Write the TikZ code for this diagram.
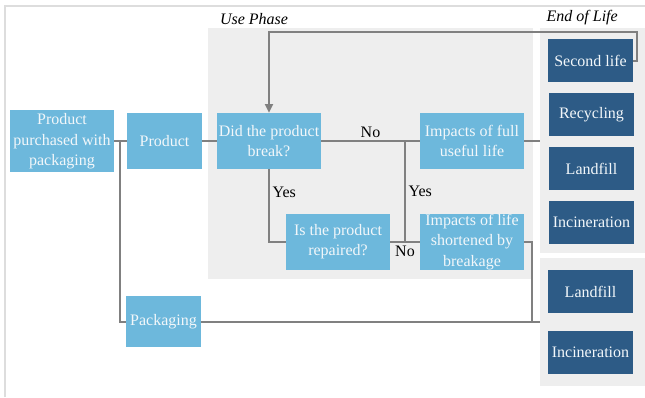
\documentclass[tikz,border=0pt]{standalone}
\usepackage{fontspec}
\setmainfont{Liberation Serif}
\usepackage{tikz}
\usetikzlibrary{arrows.meta,calc,positioning}
\definecolor{lcalight}{HTML}{6DB8DC}
\definecolor{lcadark}{HTML}{2D5B86}
\definecolor{lcapanel}{HTML}{EEEEEE}
\definecolor{lcaline}{HTML}{808080}
\definecolor{lcaframe}{HTML}{DDDDDD}
\definecolor{lcatext}{HTML}{F2F7FA}
\begin{document}
\begin{tikzpicture}[x=.75pt,y=-.75pt,>={Triangle[length=6.5pt,width=6pt]},
  font=\fontsize{12}{15.2}\selectfont,
  box/.style={rectangle,fill=lcalight,text=lcatext,align=center,inner sep=0pt,
    minimum width=78pt,minimum height=42pt},
  eol/.style={rectangle,fill=lcadark,text=lcatext,align=center,inner sep=0pt,
    minimum width=63.75pt,minimum height=32.25pt},
  panel/.style={rectangle,fill=lcapanel,inner sep=0pt},
  lbl/.style={inner sep=2pt,text=black},
  link/.style={draw=lcaline,line width=1.5pt}]
\path[use as bounding box] (0,0) rectangle (645,397);
\fill[white] (0,0) rectangle (645,397);
\draw[lcaframe,line width=1.5pt] (5,397) -- (5,6) -- (645,6);
% phase panels
\node[panel,minimum width=243.75pt,minimum height=188.25pt,
  label={[anchor=south west,xshift=7pt,inner sep=2pt]north west:\textit{Use Phase}}] (use) at (370.5,153.5) {};
\node[panel,minimum width=78.75pt,minimum height=168.75pt,
  label={[anchor=south west,xshift=3pt,inner sep=2pt]north west:\textit{End of Life}}] (eolA) at (592.5,140.5) {};
\node[panel,minimum width=78.75pt,minimum height=96pt] (eolB) at (592.5,322) {};
% flow boxes
\node[box,minimum height=46.5pt,text depth=2pt] (buy) at (62,141) {Product\\purchased with\\packaging};
\node[box,minimum width=56.25pt] (prod) at (164.5,141) {Product};
\node[box] (brk) at (269,141) {Did the product\\break?};
\node[box] (full) at (472,141) {Impacts of full\\useful life};
\node[box] (rep) at (338,242) {Is the product\\repaired?};
\node[box] (short) at (472,242) {Impacts of life\\shortened by\\breakage};
\node[box,minimum width=56.25pt,minimum height=38.25pt] (pack) at (163.5,321.5) {Packaging};
% end of life options
\node[eol] (second) at (590.5,60.5) {Second life};
\node[eol] (recyc) at (591.5,114.5) {Recycling};
\node[eol] (landA) at (591.5,168.5) {Landfill};
\node[eol] (incA) at (591.5,222.5) {Incineration};
\node[eol] (landB) at (590.5,291.5) {Landfill};
\node[eol] (incB) at (590.5,352.5) {Incineration};
% connectors
\coordinate (top) at (0,32);
\coordinate (mrg) at (532,0);
\coordinate (mid) at ($(rep.east)!.5!(short.west)$);
\draw[link] (buy.east) -- (prod.west);
\draw[link] (buy.east) -- ++(6,0) |- (pack.west);
\draw[link] (prod.east) -- (brk.west);
\draw[link] (brk.east) -- node[lbl,above] {No} (full.west);
\draw[link] (brk.south) |- node[lbl,right,pos=.16] {Yes} (rep.west);
\draw[link] (rep.east) -- node[lbl,below] {No} (short.west);
\draw[link] (mid) -- node[lbl,right] {Yes} (mid |- full.west);
\draw[link] (full.east) -- (full.east -| eolA.west);
\draw[link] (short.east) -| (mrg |- pack.east) -- (pack.east -| eolB.west);
\draw[link] (pack.east) -- (pack.east -| eolB.west);
\draw[link,->] (second.east) -- ++(4,0) |- (brk.north |- top) -- (brk.north);
\end{tikzpicture}
\end{document}
